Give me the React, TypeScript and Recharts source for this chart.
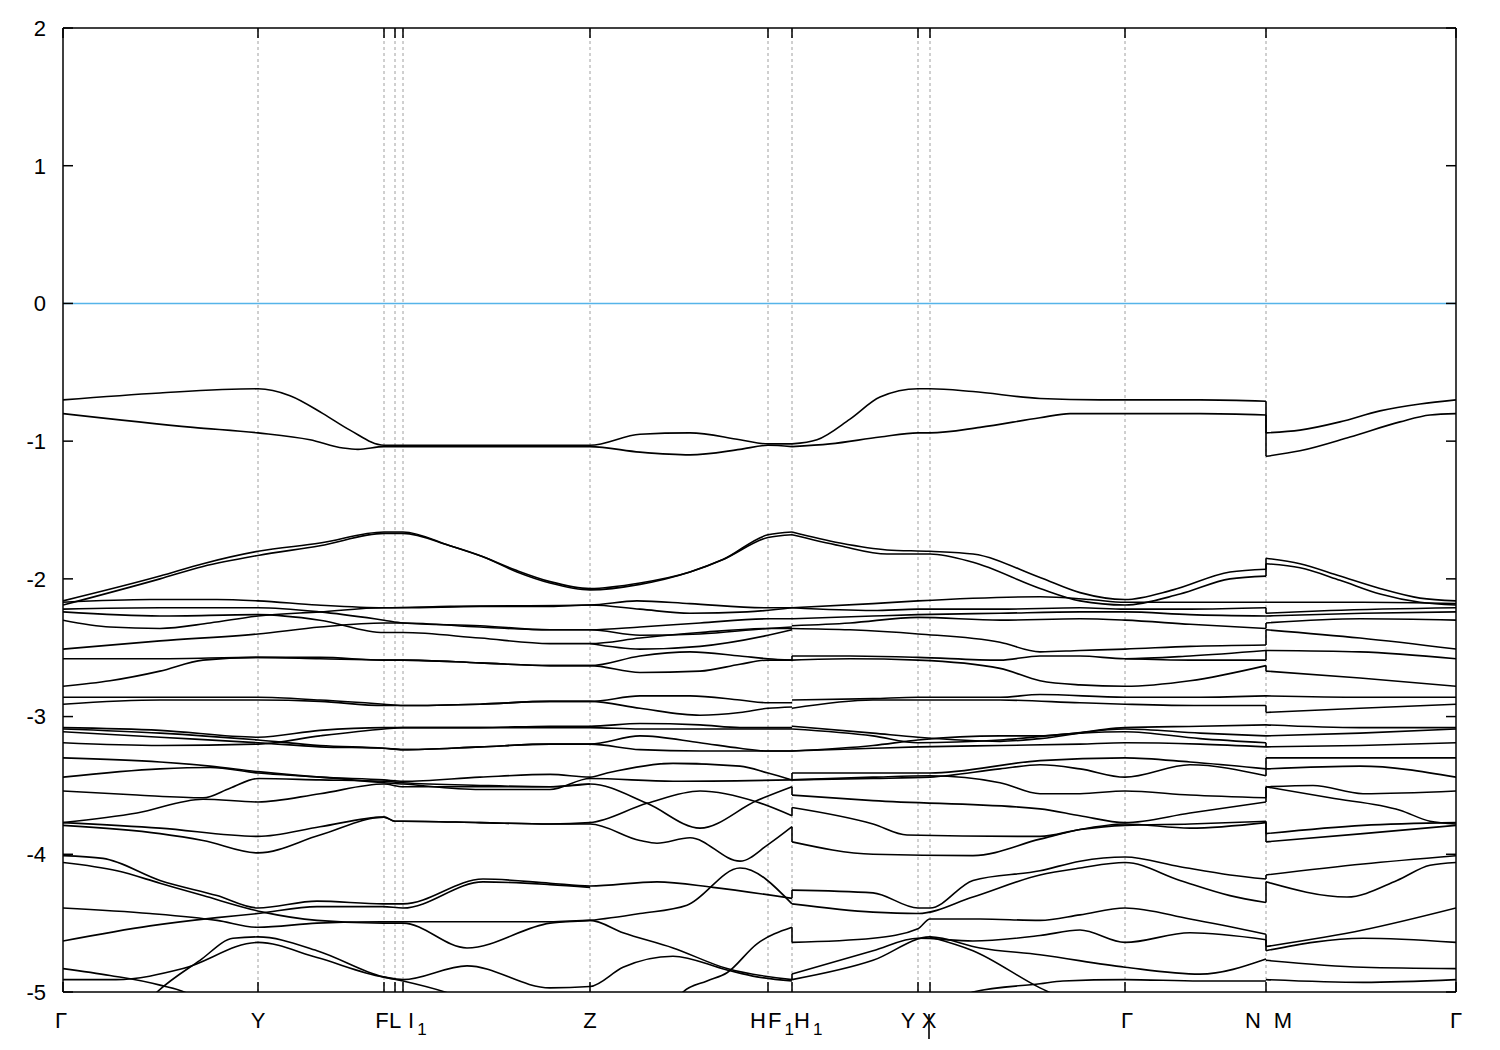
import React from 'react';
import { LineChart, Line, XAxis, YAxis, ReferenceLine } from 'recharts';

// high-symmetry k-points (path distance) and their labels
const hsK = [0, 1.95, 3.21, 3.32, 3.40, 5.27, 7.05, 7.29, 8.55, 8.67, 10.62, 12.03, 13.93];
const hsLabels = ['Γ', 'Y', 'F', 'L', 'I_1', 'Z', 'H F_1', 'H_1', 'Y', 'X', 'Γ', 'N M', 'Γ'];
const yTicks = [-5, -4, -3, -2, -1, 0, 1, 2];

// bands on Γ–Y–F–L–I1–Z–H–F1 (k, E in eV)
const segA: number[][][] = [
  [[0,-0.70],[0.97,-0.65],[1.95,-0.62],[2.27,-0.67],[2.60,-0.80],[2.87,-0.92],[3.21,-1.03],[5.27,-1.03],[5.77,-0.95],[6.27,-0.94],[6.77,-0.99],[7.05,-1.02],[7.29,-1.02]],
  [[0,-0.80],[1.30,-0.90],[1.95,-0.94],[2.47,-0.99],[2.80,-1.05],[2.95,-1.06],[3.21,-1.04],[5.27,-1.04],[5.77,-1.08],[6.27,-1.10],[6.77,-1.06],[7.05,-1.03],[7.29,-1.04]],
  [[0,-2.16],[0.97,-1.98],[1.40,-1.89],[1.95,-1.80],[2.57,-1.74],[3.21,-1.66],[3.40,-1.66],[3.87,-1.76],[4.20,-1.84],[4.54,-1.94],[4.87,-2.02],[5.27,-2.07],[5.77,-2.03],[6.27,-1.95],[6.60,-1.86],[7.05,-1.68],[7.29,-1.66]],
  [[0,-2.19],[0.97,-2.00],[1.40,-1.91],[1.95,-1.83],[2.57,-1.76],[3.21,-1.67],[3.40,-1.67],[3.87,-1.76],[4.20,-1.84],[4.54,-1.95],[4.87,-2.03],[5.27,-2.08],[5.77,-2.04],[6.27,-1.95],[6.60,-1.86],[7.05,-1.70],[7.29,-1.68]],
  [[0,-2.17],[0.87,-2.15],[1.54,-2.15],[1.95,-2.16],[2.54,-2.19],[3.21,-2.21],[3.87,-2.20],[5.27,-2.19],[5.74,-2.16],[6.27,-2.18],[7.05,-2.21],[7.29,-2.21]],
  [[0,-2.30],[0.47,-2.35],[0.97,-2.36],[1.47,-2.32],[1.95,-2.27],[2.57,-2.24],[3.21,-2.21],[3.40,-2.21],[4.17,-2.20],[4.87,-2.20],[5.27,-2.19],[5.77,-2.22],[6.27,-2.25],[6.84,-2.24],[7.29,-2.21]],
  [[0,-2.22],[0.97,-2.21],[1.95,-2.21],[2.57,-2.24],[3.21,-2.30],[3.40,-2.32],[4.17,-2.34],[4.87,-2.37],[5.27,-2.37],[5.77,-2.35],[6.37,-2.32],[7.05,-2.29],[7.29,-2.29]],
  [[0,-2.51],[0.97,-2.45],[1.95,-2.40],[2.57,-2.35],[3.21,-2.32],[3.40,-2.32],[4.17,-2.35],[4.87,-2.37],[5.27,-2.37],[5.77,-2.41],[6.37,-2.40],[7.05,-2.36],[7.29,-2.35]],
  [[0,-2.24],[0.97,-2.27],[1.95,-2.26],[2.57,-2.30],[3.21,-2.39],[3.40,-2.39],[4.17,-2.43],[4.87,-2.47],[5.27,-2.47],[5.77,-2.43],[6.37,-2.39],[7.05,-2.36],[7.29,-2.36]],
  [[5.27,-2.47],[5.77,-2.51],[6.37,-2.49],[7.05,-2.41],[7.29,-2.37]],
  [[0,-2.58],[0.97,-2.58],[1.95,-2.57],[2.57,-2.58],[3.21,-2.59],[3.40,-2.59],[4.17,-2.61],[4.87,-2.63],[5.27,-2.63],[5.77,-2.56],[6.27,-2.53],[6.77,-2.56],[7.05,-2.58],[7.29,-2.59]],
  [[0,-2.78],[0.47,-2.74],[0.97,-2.67],[1.40,-2.59],[1.95,-2.57],[2.57,-2.57],[3.21,-2.59],[3.40,-2.59],[4.17,-2.61],[4.87,-2.63],[5.27,-2.63],[5.77,-2.68],[6.37,-2.67],[6.77,-2.62],[7.05,-2.59],[7.29,-2.59]],
  [[0,-2.86],[0.97,-2.86],[1.95,-2.86],[2.57,-2.88],[3.21,-2.91],[3.40,-2.92],[4.17,-2.91],[4.87,-2.89],[5.27,-2.89],[5.77,-2.85],[6.27,-2.85],[6.77,-2.88],[7.05,-2.90],[7.29,-2.90]],
  [[0,-2.91],[0.97,-2.88],[1.95,-2.88],[2.57,-2.89],[3.21,-2.92],[3.40,-2.92],[4.17,-2.91],[4.87,-2.89],[5.27,-2.89],[5.77,-2.94],[6.37,-2.99],[6.77,-2.97],[7.05,-2.94],[7.29,-2.93]],
  [[0,-3.08],[0.97,-3.10],[1.95,-3.15],[2.57,-3.10],[3.21,-3.08],[3.40,-3.08],[4.17,-3.08],[4.87,-3.07],[5.27,-3.07],[5.77,-3.05],[6.37,-3.06],[6.77,-3.08],[7.29,-3.08]],
  [[0,-3.09],[0.97,-3.12],[1.95,-3.17],[2.57,-3.21],[3.21,-3.23],[3.40,-3.24],[4.17,-3.22],[4.87,-3.20],[5.27,-3.20],[5.77,-3.14],[6.37,-3.19],[6.77,-3.23],[7.05,-3.25],[7.29,-3.25]],
  [[0,-3.11],[0.97,-3.15],[1.95,-3.19],[2.57,-3.22],[3.21,-3.23],[3.40,-3.24],[4.17,-3.22],[4.87,-3.20],[5.27,-3.20],[5.77,-3.24],[6.37,-3.25],[7.29,-3.25]],
  [[0,-3.19],[0.97,-3.21],[1.95,-3.20],[2.57,-3.14],[3.21,-3.09],[3.40,-3.08],[4.17,-3.08],[5.27,-3.08],[5.77,-3.09],[6.37,-3.09],[7.29,-3.09]],
  [[0,-3.30],[0.97,-3.33],[1.47,-3.36],[1.95,-3.40],[2.57,-3.44],[3.21,-3.46],[3.40,-3.47],[4.17,-3.44],[4.87,-3.42],[5.27,-3.44],[5.44,-3.41],[6.10,-3.34],[6.77,-3.36],[7.05,-3.41],[7.29,-3.46]],
  [[0,-3.44],[0.97,-3.38],[1.47,-3.37],[1.95,-3.41],[2.57,-3.44],[3.21,-3.48],[3.40,-3.49],[4.17,-3.53],[4.87,-3.53],[5.27,-3.45],[6.10,-3.47],[7.29,-3.46]],
  [[0,-3.54],[0.74,-3.57],[1.40,-3.59],[1.67,-3.52],[1.95,-3.45],[2.57,-3.46],[3.21,-3.47],[3.40,-3.48],[4.17,-3.50],[4.87,-3.51],[5.27,-3.49],[5.84,-3.63],[6.37,-3.81],[6.94,-3.61],[7.29,-3.51]],
  [[0,-3.77],[0.74,-3.70],[1.40,-3.60],[1.95,-3.62],[2.57,-3.56],[3.21,-3.49],[3.40,-3.51],[4.17,-3.51],[4.87,-3.51],[5.27,-3.49]],
  [[0,-3.77],[0.97,-3.81],[1.95,-3.87],[2.57,-3.80],[3.21,-3.73],[3.32,-3.76],[3.40,-3.76],[4.17,-3.77],[4.87,-3.78],[5.27,-3.77],[5.84,-3.63],[6.37,-3.54],[6.94,-3.62],[7.29,-3.72]],
  [[0,-3.79],[0.97,-3.85],[1.40,-3.90],[1.95,-3.99],[2.57,-3.86],[3.21,-3.73],[3.32,-3.76],[3.40,-3.76],[4.17,-3.77],[4.87,-3.78],[5.27,-3.78],[5.77,-3.90],[5.94,-3.92],[6.27,-3.88],[6.77,-4.05],[7.05,-3.93],[7.29,-3.80]],
  [[0,-4.01],[0.40,-4.03],[0.97,-4.19],[1.54,-4.30],[1.95,-4.39],[2.54,-4.34],[3.20,-4.36],[3.40,-4.36],[4.20,-4.18],[4.87,-4.21],[5.27,-4.23],[5.94,-4.20],[6.50,-4.24],[7.29,-4.32]],
  [[0,-4.06],[0.54,-4.12],[0.97,-4.21],[1.40,-4.30],[2.00,-4.42],[2.54,-4.48],[3.20,-4.50],[3.40,-4.50],[4.04,-4.68],[4.87,-4.50],[5.27,-4.48],[5.77,-4.43],[6.24,-4.37],[6.77,-4.10],[7.29,-4.36]],
  [[0,-4.39],[0.87,-4.43],[1.54,-4.48],[1.95,-4.53],[2.54,-4.50],[3.20,-4.49],[3.40,-4.49],[4.17,-4.49],[4.87,-4.49],[5.27,-4.48],[5.60,-4.57],[6.10,-4.68],[6.64,-4.83],[7.29,-4.91]],
  [[0,-4.63],[0.87,-4.52],[1.54,-4.46],[1.95,-4.43],[2.54,-4.38],[3.20,-4.38],[3.40,-4.39],[4.20,-4.20],[4.87,-4.22],[5.27,-4.24]],
  [[0,-4.83],[0.47,-4.88],[0.97,-4.95],[1.27,-5.02],[1.50,-5.15]],
  [[0,-4.91],[0.53,-4.91],[1.20,-4.83],[1.95,-4.64],[2.54,-4.75],[3.20,-4.89],[3.40,-4.91],[4.04,-4.81],[4.87,-4.97],[5.27,-4.96],[5.60,-4.82],[6.10,-4.74],[6.64,-4.84],[6.94,-4.89],[7.29,-4.92]],
  [[0.80,-5.10],[0.94,-5.00],[1.37,-4.77],[1.70,-4.61],[1.95,-4.60],[2.54,-4.70],[3.20,-4.89],[3.40,-4.92],[3.90,-5.02],[4.30,-5.15]],
  [[6.10,-5.10],[6.20,-5.00],[6.44,-4.92],[6.64,-4.86],[6.94,-4.65],[7.29,-4.53]],
];

// bands on H1–Y–X–Γ–N
const segB: number[][][] = [
  [[7.29,-1.02],[7.54,-0.99],[7.87,-0.84],[8.17,-0.68],[8.55,-0.62],[8.67,-0.62],[9.10,-0.64],[9.77,-0.69],[10.37,-0.70],[10.62,-0.70],[11.37,-0.70],[12.03,-0.71]],
  [[7.29,-1.04],[7.67,-1.02],[8.17,-0.97],[8.55,-0.94],[8.67,-0.94],[9.17,-0.90],[9.77,-0.83],[10.07,-0.80],[10.62,-0.80],[11.37,-0.80],[12.03,-0.81]],
  [[7.29,-1.66],[7.77,-1.74],[8.24,-1.79],[8.67,-1.80],[9.10,-1.82],[9.77,-1.99],[10.17,-2.10],[10.62,-2.15],[11.10,-2.08],[11.67,-1.95],[12.03,-1.93]],
  [[7.29,-1.68],[7.77,-1.76],[8.24,-1.82],[8.67,-1.82],[9.10,-1.88],[9.77,-2.07],[10.17,-2.16],[10.62,-2.19],[11.17,-2.11],[11.67,-2.00],[12.03,-1.98]],
  [[7.29,-2.21],[8.10,-2.18],[8.55,-2.16],[9.77,-2.13],[10.27,-2.15],[10.62,-2.17],[11.37,-2.17],[12.03,-2.17]],
  [[7.29,-2.21],[8.10,-2.23],[8.55,-2.22],[9.37,-2.22],[10.17,-2.21],[10.62,-2.22],[11.27,-2.22],[12.03,-2.21]],
  [[7.29,-2.29],[8.10,-2.27],[8.55,-2.26],[9.37,-2.25],[10.17,-2.24],[10.62,-2.24],[11.27,-2.26],[12.03,-2.27]],
  [[7.29,-2.34],[7.87,-2.32],[8.55,-2.28],[9.37,-2.30],[10.17,-2.29],[10.62,-2.30],[11.27,-2.33],[12.03,-2.36]],
  [[7.29,-2.36],[7.87,-2.37],[8.55,-2.40],[9.37,-2.46],[9.77,-2.53],[10.17,-2.52],[10.62,-2.51],[11.27,-2.49],[12.03,-2.48]],
  [[7.29,-2.56],[7.87,-2.56],[8.55,-2.57],[9.37,-2.59],[9.77,-2.56],[10.17,-2.56],[10.62,-2.58],[11.27,-2.56],[12.03,-2.52]],
  [[7.29,-2.59],[7.87,-2.58],[8.55,-2.59],[9.37,-2.65],[9.77,-2.74],[10.17,-2.77],[10.62,-2.78],[11.27,-2.74],[12.03,-2.63]],
  [[10.62,-2.58],[11.27,-2.59],[12.03,-2.59]],
  [[7.29,-2.88],[8.10,-2.87],[8.55,-2.86],[9.37,-2.86],[9.77,-2.84],[10.62,-2.86],[11.37,-2.86],[12.03,-2.85]],
  [[7.29,-2.94],[8.10,-2.88],[8.55,-2.88],[9.37,-2.88],[10.17,-2.90],[10.62,-2.91],[11.37,-2.92],[12.03,-2.92]],
  [[7.29,-3.07],[8.10,-3.12],[8.55,-3.15],[9.37,-3.18],[9.77,-3.16],[10.62,-3.08],[11.37,-3.07],[12.03,-3.06]],
  [[7.29,-3.25],[8.10,-3.21],[8.55,-3.17],[9.37,-3.14],[9.77,-3.14],[10.62,-3.09],[11.37,-3.12],[12.03,-3.14]],
  [[7.29,-3.09],[8.10,-3.14],[8.55,-3.19],[9.37,-3.17],[10.17,-3.12],[10.62,-3.11],[11.37,-3.16],[12.03,-3.19]],
  [[7.29,-3.25],[8.10,-3.23],[8.55,-3.22],[9.37,-3.21],[10.17,-3.20],[10.62,-3.19],[11.37,-3.20],[12.03,-3.22]],
  [[7.29,-3.41],[8.10,-3.41],[8.67,-3.41],[9.77,-3.32],[10.62,-3.30],[11.27,-3.33],[12.03,-3.38]],
  [[7.29,-3.46],[8.10,-3.44],[8.67,-3.43],[9.37,-3.48],[9.77,-3.56],[10.17,-3.56],[10.62,-3.54],[11.27,-3.57],[12.03,-3.59]],
  [[7.29,-3.46],[8.10,-3.45],[8.67,-3.44],[9.37,-3.38],[9.77,-3.35],[10.17,-3.38],[10.62,-3.44],[11.27,-3.35],[12.03,-3.43]],
  [[7.29,-3.57],[8.10,-3.61],[9.77,-3.67],[10.17,-3.72],[10.62,-3.77],[11.27,-3.70],[12.03,-3.62]],
  [[7.29,-3.66],[8.10,-3.78],[8.44,-3.86],[9.77,-3.87],[10.17,-3.82],[10.62,-3.79],[11.27,-3.78],[12.03,-3.76]],
  [[7.29,-3.91],[8.10,-4.00],[9.10,-4.01],[9.77,-3.89],[10.17,-3.82],[10.62,-3.78],[11.27,-3.81],[12.03,-3.77]],
  [[7.29,-4.26],[8.10,-4.28],[8.55,-4.39],[8.67,-4.39],[9.10,-4.19],[9.77,-4.12],[10.17,-4.05],[10.62,-4.02],[11.17,-4.09],[11.67,-4.15],[12.03,-4.18]],
  [[7.29,-4.36],[8.10,-4.42],[8.55,-4.43],[9.10,-4.31],[9.77,-4.15],[10.17,-4.10],[10.62,-4.06],[11.17,-4.19],[11.67,-4.30],[12.03,-4.35]],
  [[7.29,-4.64],[8.10,-4.61],[8.55,-4.54],[8.67,-4.47],[9.17,-4.47],[9.77,-4.48],[10.17,-4.44],[10.62,-4.39],[11.27,-4.47],[12.03,-4.58]],
  [[7.29,-4.87],[8.10,-4.70],[8.55,-4.61],[9.10,-4.63],[9.77,-4.59],[10.17,-4.55],[10.62,-4.64],[11.27,-4.57],[12.03,-4.62]],
  [[7.29,-4.91],[8.10,-4.77],[8.67,-4.60],[9.17,-4.68],[9.77,-4.73],[10.62,-4.82],[11.37,-4.87],[12.03,-4.76]],
  [[9.05,-5.02],[9.10,-5.00],[9.77,-4.94],[10.00,-4.92],[10.62,-4.91],[11.37,-4.92],[12.03,-4.92]],
  [[8.67,-4.60],[9.10,-4.70],[9.77,-4.97],[10.07,-5.07]],
];

// bands on M–Γ
const segC: number[][][] = [
  [[12.03,-0.94],[12.37,-0.92],[12.77,-0.86],[13.17,-0.78],[13.57,-0.73],[13.93,-0.70]],
  [[12.03,-1.11],[12.37,-1.07],[12.87,-0.97],[13.37,-0.86],[13.67,-0.81],[13.93,-0.80]],
  [[12.03,-1.85],[12.37,-1.89],[12.77,-1.98],[13.17,-2.07],[13.57,-2.14],[13.93,-2.16]],
  [[12.03,-1.89],[12.37,-1.92],[12.77,-2.01],[13.17,-2.11],[13.57,-2.17],[13.93,-2.19]],
  [[12.03,-2.17],[13.00,-2.17],[13.93,-2.18]],
  [[12.03,-2.25],[12.67,-2.23],[13.93,-2.21]],
  [[12.03,-2.27],[13.00,-2.25],[13.93,-2.24]],
  [[12.03,-2.32],[12.97,-2.29],[13.93,-2.30]],
  [[12.03,-2.37],[12.97,-2.43],[13.93,-2.51]],
  [[12.03,-2.52],[12.97,-2.53],[13.93,-2.58]],
  [[12.03,-2.67],[12.97,-2.72],[13.93,-2.78]],
  [[12.03,-2.85],[13.00,-2.86],[13.93,-2.86]],
  [[12.03,-2.97],[12.97,-2.94],[13.93,-2.91]],
  [[12.03,-3.06],[12.97,-3.08],[13.93,-3.08]],
  [[12.03,-3.14],[12.97,-3.12],[13.93,-3.09]],
  [[12.03,-3.22],[12.97,-3.21],[13.93,-3.19]],
  [[12.03,-3.30],[13.00,-3.30],[13.93,-3.30]],
  [[12.03,-3.38],[12.97,-3.36],[13.93,-3.44]],
  [[12.03,-3.51],[12.50,-3.50],[13.00,-3.56],[13.93,-3.54]],
  [[12.03,-3.51],[12.67,-3.59],[13.37,-3.68],[13.67,-3.76],[13.93,-3.78]],
  [[12.03,-3.85],[13.00,-3.79],[13.93,-3.77]],
  [[12.03,-3.91],[13.00,-3.85],[13.93,-3.79]],
  [[12.03,-4.15],[13.00,-4.07],[13.93,-4.01]],
  [[12.03,-4.20],[12.84,-4.31],[13.34,-4.19],[13.67,-4.08],[13.93,-4.06]],
  [[12.03,-4.67],[13.00,-4.55],[13.93,-4.39]],
  [[12.03,-4.70],[13.00,-4.61],[13.93,-4.64]],
  [[12.03,-4.77],[13.00,-4.82],[13.93,-4.83]],
  [[12.03,-4.91],[13.00,-4.93],[13.93,-4.91]],
];

// discontinuities (energy before -> after) at H1 and at N|M
const jumpH1 = [[-2.59,-2.56],[-3.46,-3.41],[-3.51,-3.57],[-3.72,-3.66],[-3.80,-3.91],[-4.32,-4.26],[-4.53,-4.64],[-4.91,-4.87]];
const jumpNM = [[-0.71,-0.94],[-0.81,-1.11],[-1.93,-1.85],[-1.98,-1.89],[-2.21,-2.25],[-2.36,-2.32],[-2.48,-2.37],[-2.59,-2.52],[-2.63,-2.67],[-2.92,-2.97],[-3.19,-3.22],[-3.38,-3.30],[-3.43,-3.38],[-3.59,-3.51],[-3.62,-3.51],[-3.76,-3.85],[-3.77,-3.91],[-4.18,-4.15],[-4.35,-4.20],[-4.58,-4.67],[-4.62,-4.70]];

const FONT = '"Liberation Sans", Arial, Helvetica, sans-serif';
const FS = 22;

// label placement tweaks (px) per tick index and token
const labelDx: Record<number, number[]> = {
  0: [-2], 2: [-2], 4: [5], 6: [-10, 0], 7: [2], 8: [-10], 9: [-1], 10: [2], 11: [-13, 17],
};

function renderToken(tok: string, x: number, y: number, key: number) {
  const parts = tok.split('_');
  if (parts.length === 1) {
    return (
      <text key={key} x={x} y={y} textAnchor="middle" fontSize={FS} fontFamily={FONT} fill="#000">{tok}</text>
    );
  }
  return (
    <text key={key} x={x} y={y} textAnchor="start" fontSize={FS} fontFamily={FONT} fill="#000">
      {parts[0]}
      <tspan dx={3} dy={7} fontSize={17}>{parts[1]}</tspan>
    </text>
  );
}

function BottomTick(props: any) {
  const { x, y, index } = props;
  const label = hsLabels[index] || '';
  const toks = label.split(' ');
  const offs = labelDx[index] || [];
  return (
    <g>
      <line x1={x} x2={x} y1={y} y2={y - 10} stroke="#000" strokeWidth={1.5} />
      {toks.map((t, i) => renderToken(t, x + (offs[i] ?? 0), y + 36, i))}
      {index === 9 ? (
        <line x1={x - 1} x2={x - 1} y1={y + 22} y2={y + 47} stroke="#000" strokeWidth={1.6} />
      ) : null}
    </g>
  );
}

function TopTick(props: any) {
  const { x, y } = props;
  return <line x1={x} x2={x} y1={y} y2={y + 10} stroke="#000" strokeWidth={1.5} />;
}

function LeftTick(props: any) {
  const { x, y, payload } = props;
  return (
    <g>
      <line x1={x} x2={x + 10} y1={y} y2={y} stroke="#000" strokeWidth={1.5} />
      <text x={x - 17} y={y} dy="0.36em" textAnchor="end" fontSize={FS} fontFamily={FONT} fill="#000">{String(payload.value)}</text>
    </g>
  );
}

function RightTick(props: any) {
  const { x, y } = props;
  return <line x1={x} x2={x - 10} y1={y} y2={y} stroke="#000" strokeWidth={1.5} />;
}

const toData = (band: number[][]) => band.map(([k, e]) => ({ k, e }));

export default function App() {
  const bandLines = [...segA, ...segB, ...segC];
  const axisLine = { stroke: '#000', strokeWidth: 1.5 };
  return (
    <div style={{ width: 1484, height: 1034 }}>
      <LineChart width={1484} height={1034} margin={{ top: 19, right: 0, bottom: 0, left: 0 }}>
        <XAxis
          xAxisId="b" dataKey="k" type="number" domain={[0, 13.93]} ticks={hsK} interval={0}
          allowDataOverflow orientation="bottom" height={50} tickSize={0} tickMargin={0}
          tickLine={false} axisLine={axisLine} tick={<BottomTick />}
        />
        <XAxis
          xAxisId="t" dataKey="k" type="number" domain={[0, 13.93]} ticks={hsK} interval={0}
          allowDataOverflow orientation="top" height={1} tickSize={0} tickMargin={0}
          tickLine={false} axisLine={axisLine} tick={<TopTick />}
        />
        <YAxis
          yAxisId="l" type="number" domain={[-5, 2]} ticks={yTicks} interval={0} allowDataOverflow
          orientation="left" width={55} tickSize={0} tickMargin={0} tickLine={false}
          axisLine={axisLine} tick={<LeftTick />}
        />
        <YAxis
          yAxisId="r" type="number" domain={[-5, 2]} ticks={yTicks} interval={0} allowDataOverflow
          orientation="right" width={36} tickSize={0} tickMargin={0} tickLine={false}
          axisLine={axisLine} tick={<RightTick />}
        />
        {hsK.slice(1, -1).map((k, i) => (
          <ReferenceLine key={'g' + i} xAxisId="b" yAxisId="l" x={k} stroke="#a0a0a0" strokeWidth={1} strokeDasharray="3 3" />
        ))}
        <ReferenceLine xAxisId="b" yAxisId="l" y={0} stroke="#56B4E9" strokeWidth={1.5} />
        {bandLines.map((band, i) => (
          <Line
            key={'band' + i} xAxisId="b" yAxisId="l" data={toData(band)} dataKey="e" type="monotone"
            dot={false} activeDot={false} stroke="#000" strokeWidth={1.6} isAnimationActive={false}
          />
        ))}
        {jumpH1.map(([a, b], i) => (
          <Line
            key={'jh' + i} xAxisId="b" yAxisId="l" data={[{ k: hsK[7], e: a }, { k: hsK[7], e: b }]} dataKey="e"
            type="linear" dot={false} activeDot={false} stroke="#000" strokeWidth={1.6} isAnimationActive={false}
          />
        ))}
        {jumpNM.map(([a, b], i) => (
          <Line
            key={'jn' + i} xAxisId="b" yAxisId="l" data={[{ k: hsK[11], e: a }, { k: hsK[11], e: b }]} dataKey="e"
            type="linear" dot={false} activeDot={false} stroke="#000" strokeWidth={1.6} isAnimationActive={false}
          />
        ))}
      </LineChart>
    </div>
  );
}
